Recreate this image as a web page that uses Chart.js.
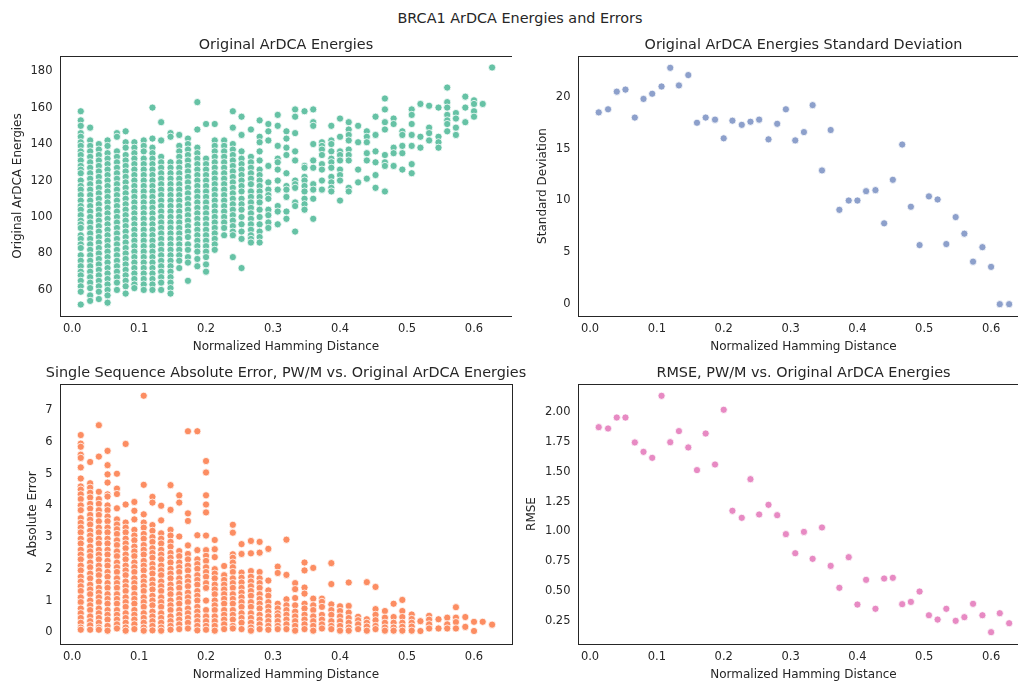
<!DOCTYPE html>
<html><head><meta charset="utf-8">
<script src="https://cdn.jsdelivr.net/npm/chart.js@4.4.1/dist/chart.umd.min.js"></script>
<style>
html,body{margin:0;padding:0;background:#fff;overflow:hidden;width:1018px;height:681px;position:relative;}
canvas{position:absolute;}
#sup{position:absolute;left:0;width:1040px;top:8px;text-align:center;font-family:"DejaVu Sans";font-size:14.4px;color:#262626;line-height:20px;white-space:nowrap;}
</style></head><body>
<div id="sup">BRCA1 ArDCA Energies and Errors</div>
<canvas id="c1" width="501" height="322" style="left:11px;top:32px"></canvas>
<canvas id="c2" width="493" height="322" style="left:536px;top:32px"></canvas>
<canvas id="c3" width="510" height="322" style="left:26px;top:360px"></canvas>
<canvas id="c4" width="504" height="322" style="left:525px;top:360px"></canvas>
<script>
// ---- data ----
const hamming = [0.013,0.027,0.040,0.053,0.067,0.080,0.093,0.107,0.120,0.133,0.147,0.160,0.173,0.187,0.200,0.213,0.227,0.240,0.253,0.267,0.280,0.293,0.307,0.320,0.333,0.347,0.360,0.373,0.387,0.400,0.413,0.427,0.440,0.453,0.467,0.480,0.493,0.507,0.520,0.533,0.547,0.560,0.573,0.587,0.600,0.613,0.627];

const energyCols = [
 [158,153,150,146,144,141,139,136,134,131,128,126,124,120,117,115,112,109,106,104,101,98,96,94,90,88,85,83,79,76,73,70,68,65,62,59,52],
 [149,142,139,136,133,130,127,124,121,118,115,112,109,106,103,100,97,94,91,88,85,82,79,76,73,70,67,64,61,57,54],
 [140,137,134,131,128,125,122,119,116,113,110,107,104,101,98,95,92,89,86,83,80,77,74,71,68,65,62,59,55],
 [142,139,135,132,129,126,123,120,117,114,111,108,105,102,99,96,93,90,87,84,81,78,75,72,69,66,63,60,57,53],
 [146,144,136,133,130,127,124,121,118,115,112,109,106,103,100,97,94,91,88,85,82,79,76,73,70,67,64,60],
 [147,141,138,134,131,128,125,122,119,116,113,110,107,104,101,98,95,92,89,86,83,80,77,74,71,68,65,62,58],
 [141,138,135,132,129,126,123,120,117,114,111,108,105,102,99,96,93,90,87,84,81,78,75,72,69,66,63,61],
 [142,139,136,132,129,126,123,120,117,114,111,108,105,102,99,96,93,90,87,84,81,78,75,72,69,66,63,60],
 [160,143,138,135,132,129,126,123,120,117,114,111,108,105,102,99,96,93,90,87,84,81,78,75,72,69,66,63,60],
 [152,142,133,130,127,124,121,118,115,112,109,106,103,100,97,94,91,88,85,82,79,76,73,70,67,64,60],
 [146,144,130,127,124,121,118,115,112,109,106,103,100,97,94,91,88,85,82,79,76,73,70,67,64,61,58],
 [145,139,136,133,130,127,124,121,118,115,112,109,106,103,100,97,94,91,88,85,82,79,76,72],
 [143,140,137,134,131,128,125,122,119,116,113,110,107,104,101,98,95,92,89,85,82,78,75,65],
 [163,148,138,135,132,129,126,123,120,117,114,111,108,105,102,99,96,93,90,87,84,81,77,73],
 [151,132,129,126,123,120,117,114,111,108,105,102,99,96,93,90,87,84,81,78,74,70],
 [151,142,139,136,133,130,127,124,121,118,115,112,109,106,103,100,97,94,91,88,85,82],
 [142,139,136,133,130,127,124,121,118,115,112,109,106,103,100,97,94,90],
 [158,149,140,137,134,131,128,125,122,119,116,113,110,107,104,101,98,95,92,90,78],
 [155,145,136,132,129,126,123,120,117,114,110,107,104,100,96,92,88,72],
 [148,133,130,127,124,121,118,114,111,108,105,102,99,96,93,90,88,86],
 [153,144,141,136,131,126,123,120,117,114,111,108,104,100,96,92,89,86],
 [151,147,142,128,119,115,112,110,104,101,97,94],
 [156,150,139,132,130,126,120,115,106,103,96],
 [147,143,138,134,124,117,115,111,103,99],
 [159,155,146,136,131,120,118,116,108,106,92],
 [158,128,127,122,120,117,114,110,107,104],
 [159,152,150,140,131,127,118,115,110,99],
 [141,139,137,134,129,126,120,115],
 [150,142,140,136,132,130,127,122,119,116,114],
 [154,144,136,134,131,126,123,120,109],
 [152,148,145,142,137,134,131,116,114],
 [150,141,126,119],
 [147,144,141,135,131,121],
 [155,145,136,130,123,116],
 [165,159,152,148,134,130,128,114],
 [154,151,138,135,128],
 [147,145,139,135,126],
 [159,156,151,145,139,129,124],
 [162,144,138],
 [161,149,146,142],
 [160,144,141,138],
 [171,163,160,156,153,151,147],
 [157,154,149,145],
 [166,160,152],
 [164,162,158,155],
 [162],
 [182]
];

const stdDev = [18.5,18.8,20.5,20.7,18.0,19.8,20.3,21.0,22.8,21.1,22.1,17.5,18.0,17.8,16.0,17.7,17.3,17.6,17.8,15.9,17.4,18.8,15.8,16.6,19.2,12.9,16.8,9.1,10.0,10.0,10.9,11.0,7.8,12.0,15.4,9.4,5.7,10.4,10.1,5.8,8.4,6.8,4.1,5.5,3.6,0.0,0.0];

const absErrCols = [
 [6.22,5.95,5.85,5.6,5.5,5.2,4.85,4.6,4.5,4.35,4.2,4.0,3.85,3.6,3.45,3.3,3.15,2.95,2.8,2.6,2.45,2.3,2.1,1.95,1.75,1.6,1.45,1.3,1.1,0.95,0.75,0.6,0.45,0.3,0.15,0.08],
 [5.37,4.7,4.56,4.4,4.25,4.05,3.9,3.7,3.55,3.4,3.2,3.05,2.9,2.7,2.55,2.4,2.2,2.05,1.85,1.7,1.5,1.35,1.2,1.0,0.85,0.7,0.5,0.35,0.22,0.08],
 [6.53,5.54,4.43,4.2,4.05,3.85,3.7,3.5,3.3,3.15,2.95,2.8,2.6,2.45,2.3,2.1,1.95,1.8,1.6,1.4,1.25,1.1,0.95,0.75,0.6,0.45,0.3,0.15,0.08],
 [5.72,5.27,4.98,4.72,4.35,4.28,4.0,3.85,3.65,3.5,3.3,3.15,2.95,2.8,2.6,2.45,2.25,2.1,1.9,1.75,1.55,1.4,1.2,1.05,0.9,0.7,0.55,0.4,0.2,0.05],
 [5.0,4.53,4.36,3.91,3.56,3.4,3.25,3.1,2.9,2.75,2.55,2.4,2.2,2.05,1.9,1.7,1.55,1.4,1.2,1.05,0.9,0.7,0.55,0.4,0.25,0.12],
 [5.94,4.03,3.46,3.3,3.15,2.95,2.8,2.65,2.45,2.3,2.1,1.95,1.8,1.6,1.45,1.3,1.1,0.95,0.8,0.6,0.45,0.3,0.15,0.05],
 [4.11,3.83,3.56,3.23,3.05,2.9,2.7,2.55,2.4,2.2,2.05,1.9,1.7,1.55,1.4,1.2,1.05,0.9,0.7,0.55,0.4,0.25,0.1],
 [7.46,4.65,3.72,3.46,3.3,3.1,2.95,2.75,2.6,2.45,2.25,2.1,1.95,1.75,1.6,1.45,1.3,1.1,0.95,0.8,0.6,0.45,0.3,0.15,0.05],
 [4.27,4.09,3.38,3.2,3.0,2.85,2.65,2.5,2.35,2.15,2.0,1.85,1.65,1.5,1.35,1.15,1.0,0.85,0.65,0.5,0.35,0.2,0.06],
 [3.99,3.53,3.12,2.95,2.8,2.6,2.45,2.3,2.1,1.95,1.8,1.6,1.45,1.3,1.1,0.95,0.8,0.6,0.45,0.3,0.15,0.05],
 [4.64,3.86,3.23,3.05,2.85,2.7,2.5,2.35,2.2,2.0,1.85,1.7,1.5,1.35,1.2,1.0,0.85,0.7,0.5,0.35,0.2,0.08],
 [4.32,4.09,3.02,2.56,2.4,2.2,2.05,1.9,1.7,1.55,1.4,1.2,1.05,0.9,0.7,0.55,0.4,0.25,0.1],
 [6.34,3.75,3.51,2.74,2.47,2.3,2.1,1.95,1.75,1.6,1.45,1.25,1.1,0.95,0.75,0.6,0.45,0.3,0.12],
 [6.34,3.06,2.59,2.3,2.15,2.0,1.8,1.65,1.5,1.3,1.15,1.0,0.8,0.65,0.5,0.35,0.2,0.06],
 [5.40,5.04,4.32,4.03,3.78,3.05,2.59,2.41,2.25,2.05,1.9,1.75,1.55,1.4,1.0,0.7,0.5,0.35,0.2,0.08],
 [2.91,2.62,2.37,1.99,1.85,1.7,1.5,1.35,1.2,1.0,0.85,0.7,0.5,0.35,0.2,0.05],
 [2.09,1.8,1.65,1.5,1.35,1.2,1.05,0.9,0.7,0.55,0.4,0.25,0.1],
 [3.39,3.14,2.46,2.35,2.2,2.05,1.9,1.7,1.55,1.4,1.2,1.05,0.9,0.7,0.55,0.4,0.2,0.12],
 [2.78,2.47,1.88,1.72,1.57,1.4,1.25,1.1,0.95,0.8,0.6,0.45,0.3,0.1],
 [2.88,2.49,1.93,1.75,1.6,1.45,1.3,1.15,0.95,0.8,0.6,0.45,0.3,0.15,0.05],
 [2.85,2.51,1.9,1.7,1.55,1.4,1.2,1.05,0.9,0.75,0.55,0.4,0.25,0.1],
 [2.63,1.63,1.32,1.15,0.95,0.8,0.65,0.5,0.35,0.2,0.08],
 [2.07,1.87,0.9,0.75,0.6,0.5,0.35,0.2,0.1],
 [2.92,1.81,1.04,0.85,0.7,0.55,0.4,0.25,0.1],
 [1.55,1.36,1.08,0.85,0.65,0.5,0.35,0.2,0.05],
 [2.2,1.95,1.41,1.22,0.9,0.75,0.55,0.4,0.25,0.1],
 [2.03,1.06,0.85,0.7,0.5,0.35,0.2,0.05],
 [1.06,0.96,0.8,0.55,0.4,0.25,0.12],
 [2.18,1.52,0.88,0.7,0.55,0.35,0.2,0.1],
 [0.82,0.67,0.5,0.35,0.2,0.05],
 [1.57,0.83,0.62,0.45,0.3,0.15,0.05],
 [0.49,0.38,0.25,0.1],
 [1.58,0.41,0.3,0.18,0.05],
 [1.43,0.73,0.55,0.38,0.2,0.1],
 [0.67,0.46,0.3,0.15,0.05],
 [0.90,0.48,0.3,0.15,0.05],
 [1.02,0.67,0.48,0.3,0.17,0.05],
 [0.56,0.42,0.3,0.18,0.05],
 [0.35,0.04],
 [0.52,0.4,0.25,0.12],
 [0.41,0.12],
 [0.46,0.25,0.12],
 [0.79,0.46,0.32,0.12],
 [0.48,0.17],
 [0.33,0.04],
 [0.33],
 [0.24]
];

const rmse = [1.874,1.863,1.955,1.955,1.746,1.667,1.617,2.137,1.748,1.841,1.704,1.514,1.821,1.561,2.020,1.173,1.114,1.438,1.142,1.223,1.136,0.977,0.817,0.996,0.770,1.033,0.711,0.527,0.784,0.387,0.594,0.351,0.605,0.611,0.390,0.409,0.496,0.297,0.261,0.351,0.250,0.281,0.393,0.297,0.155,0.314,0.230];

const xTicks = [0.0,0.1,0.2,0.3,0.4,0.5,0.6];
const energyTicks = [60,80,100,120,140,160,180];
const stdTicks = [0,5,10,15,20];
const absErrTicks = [0,1,2,3,4,5,6,7];
const rmseTicks = [0.25,0.50,0.75,1.00,1.25,1.50,1.75,2.00];

const suptitle = "BRCA1 ArDCA Energies and Errors";
const xLabel = "Normalized Hamming Distance";

// ---- drawing ----
const INK = '#262626';
const FONT = 'DejaVu Sans';

const framePlugin = {
  id: 'frame',
  afterDatasetsDraw(chart) {
    const a = chart.chartArea, c = chart.ctx;
    c.save();
    c.strokeStyle = INK; c.lineWidth = 1;
    const l = Math.floor(a.left) + 0.5, t = Math.floor(a.top) + 0.5;
    const r = Math.floor(a.right) + 0.5, b = Math.floor(a.bottom) + 0.5;
    c.strokeRect(l, t, r - l, b - t);
    c.restore();
  }
};
const panelTitlePlugin = {
  id: 'panelTitle',
  afterDraw(chart, args, o) {
    const a = chart.chartArea, c = chart.ctx;
    c.save();
    c.font = '14.4px "' + FONT + '"';
    c.fillStyle = INK; c.textAlign = 'center'; c.textBaseline = 'alphabetic';
    c.fillText(o.text, (a.left + a.right) / 2, a.top - 7);
    c.restore();
  }
};

function cols(colArr) {
  return colArr.flatMap((col, i) => col.map(v => ({x: hamming[i], y: v})));
}
function series(vals) {
  return vals.map((v, i) => ({x: hamming[i], y: v}));
}

function makeChart(id, cfg) {
  new Chart(document.getElementById(id), {
    type: 'scatter',
    data: {datasets: [{
      data: cfg.points, backgroundColor: cfg.color, borderColor: '#ffffff',
      borderWidth: 0.8, pointRadius: 3.6, pointHoverRadius: 3.6
    }]},
    options: {
      responsive: false, animation: false, devicePixelRatio: 1, events: [],
      layout: {padding: {top: 24, right: cfg.padRight || 0, bottom: 0, left: 0}, autoPadding: false},
      plugins: {legend: {display: false}, tooltip: {enabled: false}, title: {display: false},
                panelTitle: {text: cfg.title}},
      scales: {
        x: {
          type: 'linear', position: 'bottom', min: -0.018, max: 0.6567,
          grid: {display: false, drawTicks: false}, border: {display: false},
          afterFit: s => { s.height = 38; },
          afterBuildTicks: s => { s.ticks = xTicks.map(v => ({value: v})); },
          ticks: {padding: 6.5, color: INK, font: {family: FONT, size: 11.5}, maxRotation: 0, autoSkip: false,
                  callback: v => Number(v).toFixed(1)},
          title: {display: true, text: xLabel, color: INK, font: {family: FONT, size: 12}, padding: {top: 0, bottom: 0}}
        },
        y: {
          type: 'linear', position: 'left', min: cfg.yMin, max: cfg.yMax,
          grid: {display: false, drawTicks: false}, border: {display: false},
          afterFit: s => { s.width = cfg.yW; },
          afterBuildTicks: s => { s.ticks = cfg.yTicks.map(v => ({value: v})); },
          ticks: {padding: 7.5, color: INK, font: {family: FONT, size: 11.5}, autoSkip: false,
                  callback: v => Number(v).toFixed(cfg.dec)},
          title: {display: true, text: cfg.yLabel, color: INK, font: {family: FONT, size: 12}, padding: {top: 0, bottom: 0}}
        }
      }
    },
    plugins: [framePlugin, panelTitlePlugin]
  });
}

makeChart('c1', {points: cols(energyCols), color: '#66c2a5', yMin: 45.7, yMax: 188.3, yTicks: energyTicks, dec: 0,
  yW: 49, yLabel: 'Original ArDCA Energies', title: 'Original ArDCA Energies'});
makeChart('c2', {points: series(stdDev), color: '#8da0cb', yMin: -1.14, yMax: 23.94, yTicks: stdTicks, dec: 0,
  yW: 42, yLabel: 'Standard Deviation', title: 'Original ArDCA Energies Standard Deviation'});
makeChart('c3', {points: cols(absErrCols), color: '#fc8d62', yMin: -0.37, yMax: 7.83, yTicks: absErrTicks, dec: 0,
  yW: 34, padRight: 24, yLabel: 'Absolute Error', title: 'Single Sequence Absolute Error, PW/M vs. Original ArDCA Energies'});
makeChart('c4', {points: series(rmse), color: '#e78ac3', yMin: 0.056, yMax: 2.236, yTicks: rmseTicks, dec: 2,
  yW: 53, yLabel: 'RMSE', title: 'RMSE, PW/M vs. Original ArDCA Energies'});

document.getElementById('sup').textContent = suptitle;
</script>
</body></html>
